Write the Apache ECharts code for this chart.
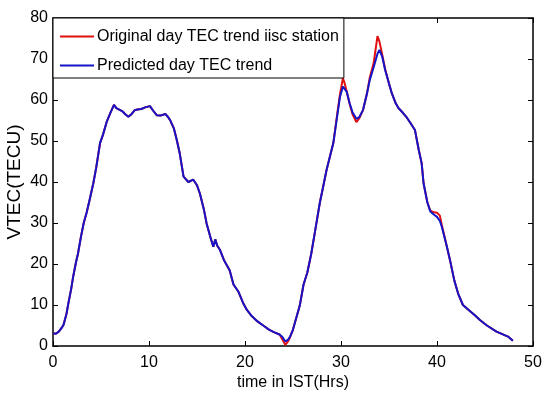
<!DOCTYPE html>
<html><head><meta charset="utf-8">
<script src="https://cdn.jsdelivr.net/npm/echarts@6/dist/echarts.min.js"></script>
<style>html,body{margin:0;padding:0;background:#fff}#c{width:542px;height:394px}</style>
</head><body><div id="c"></div>
<script>
// time in IST (hours)
var times = [0,0.3,0.6,0.9,1.1,1.4,1.6,1.9,2.1,2.4,2.6,2.9,3.2,3.5,3.8,4.2,4.5,4.9,5.2,5.6,6.0,6.35,6.6,6.8,7.2,7.5,7.85,8.2,8.5,8.8,9.2,9.6,10.1,10.4,10.8,11.2,11.7,12.0,12.2,12.6,12.9,13.2,13.6,14.1,14.6,15.0,15.3,15.7,16.0,16.4,16.7,16.9,17.1,17.4,17.8,18.4,18.8,19.3,19.8,20.2,20.7,21.3,21.9,22.5,23.0,23.6,23.9,24.2,24.5,24.7,25.0,25.3,25.7,26.1,26.5,26.9,27.3,27.8,28.2,28.5,29.2,29.6,29.9,30.2,30.35,30.6,30.9,31.2,31.6,31.9,32.3,32.7,33.0,33.4,33.8,34.0,34.3,34.6,35.0,35.3,35.7,36.0,36.4,36.8,37.2,37.7,38.1,38.4,38.6,39.0,39.3,39.7,40.0,40.3,40.5,41.0,41.35,41.8,42.2,42.7,43.3,44.0,44.5,45.2,46.2,46.8,47.4,47.9];
// Predicted day TEC trend (TECU)
var predicted = [3.1,3.0,3.5,4.4,5.2,7.8,10.4,14,16.9,20.5,22.5,26.5,30,32.5,35.5,39.7,43.5,49.5,51.5,54.7,57,58.8,58.0,57.6,57.3,56.6,55.9,56.6,57.5,57.7,57.8,58.2,58.5,57.5,56.3,56.2,56.6,55.8,55.1,53,50.2,47,41.3,40,40.6,39.2,37.2,33.5,29.9,26.5,24.2,26,24.5,23.4,21,18.5,15,13.3,10.5,8.8,7.3,6,5,4,3.4,2.8,2.2,1.1,1.6,2.3,4.0,6.5,9.8,15,18,22.5,28,35,39.5,43,49.5,56,60.8,63.3,63.7,62,59.2,57,55.4,55.8,57.6,61.5,64.9,68,71.3,72.2,70.5,67.3,64,61.6,59.2,58,57,55.9,54.5,52.7,47.8,44.6,39.7,35,32.8,32,31.5,30.5,29.1,24.5,21,16,12.8,10,8.8,7.4,6.3,5,3.5,2.9,2.3,1.3];
// Original day TEC trend iisc station (TECU)
var original = [3.1,3.0,3.5,4.4,5.2,7.8,10.4,14,16.9,20.5,22.5,26.5,30,32.5,35.5,39.7,43.5,49.5,51.5,54.7,57,58.8,58.0,57.6,57.3,56.6,55.9,56.6,57.5,57.7,57.8,58.2,58.5,57.5,56.3,56.2,56.6,55.8,55.1,53,50.2,47,41.3,40,40.6,39.2,37.2,33.5,29.9,26.5,24.2,26,24.5,23.4,21,18.5,15,13.3,10.5,8.8,7.3,6,5,4,3.4,2.8,1.6,0.3,1.2,2.2,4.0,6.5,9.8,15,18,22.5,28,35,39.5,43,49.5,56.5,61.5,65.3,64.3,62,59,56.5,54.6,55.5,57.6,61.5,65.5,69,75.6,74.3,71,67.5,64,61.6,59.2,58,57,55.9,54.5,52.7,47.8,44.6,39.7,35,33,32.6,32.5,31.8,29.5,24.5,21,16,12.8,10,8.8,7.4,6.3,5,3.5,2.9,2.3,1.3];
var xTicks = [0,10,20,30,40,50];
var yTicks = [0,10,20,30,40,50,60,70,80];

function pairs(v){ return times.map(function(t,i){ return [t, v[i]]; }); }

var FONT = 'Liberation Sans, Arial, sans-serif';
var LINE_ICON = 'path://M0,0 L34,0 L34,2 L0,2 Z';
var chart = echarts.init(document.getElementById('c'), null, {renderer:'canvas'});
var axisCommon = {
  axisLine:{show:true, onZero:false, lineStyle:{color:'#000', width:1.5}},
  axisTick:{show:true, inside:true, length:5, lineStyle:{color:'#000', width:1}},
  splitLine:{show:false}
};
chart.setOption({
  animation:false,
  backgroundColor:'#fff',
  grid:{left:53, right:9, top:18, bottom:48, containLabel:false, outerBoundsMode:'none'},
  legend:{
    orient:'vertical', left:53, top:18,
    padding:[10,5,4,7], itemGap:12,
    itemWidth:34, itemHeight:17,
    backgroundColor:'#fff', borderColor:'#000', borderWidth:1,
    textStyle:{fontFamily:FONT, fontSize:16, color:'#000', lineHeight:17, padding:[0,0,0,-2]},
    data:[{name:'Original day TEC trend iisc station', icon:LINE_ICON},
          {name:'Predicted day TEC trend', icon:LINE_ICON}]
  },
  xAxis:[
    Object.assign({type:'value', min:xTicks[0], max:xTicks[xTicks.length-1], interval:10, position:'bottom',
      name:'time in IST(Hrs)', nameLocation:'middle', nameGap:29, nameMoveOverlap:false,
      nameTextStyle:{fontFamily:FONT, fontSize:16, color:'#000'},
      axisLabel:{fontFamily:FONT, fontSize:16, color:'#000', margin:9}}, axisCommon),
    Object.assign({type:'value', min:xTicks[0], max:xTicks[xTicks.length-1], interval:10, position:'top',
      axisLabel:{show:false}}, axisCommon)
  ],
  yAxis:[
    Object.assign({type:'value', min:yTicks[0], max:yTicks[yTicks.length-1], interval:10, position:'left',
      name:'VTEC(TECU)', nameLocation:'middle', nameGap:29, nameMoveOverlap:false,
      nameTextStyle:{fontFamily:FONT, fontSize:19, color:'#000'},
      axisLabel:{fontFamily:FONT, fontSize:16, color:'#000', margin:5}}, axisCommon),
    Object.assign({type:'value', min:yTicks[0], max:yTicks[yTicks.length-1], interval:10, position:'right',
      axisLabel:{show:false}}, axisCommon)
  ],
  series:[
    {name:'Original day TEC trend iisc station', type:'line', data:pairs(original), showSymbol:false, symbol:'none',
      lineStyle:{color:'#e01010', width:2}, itemStyle:{color:'#e01010'}, z:2},
    {name:'Predicted day TEC trend', type:'line', data:pairs(predicted), showSymbol:false, symbol:'none',
      lineStyle:{color:'#1414c8', width:2}, itemStyle:{color:'#1414c8'}, z:3}
  ]
});
</script></body></html>
